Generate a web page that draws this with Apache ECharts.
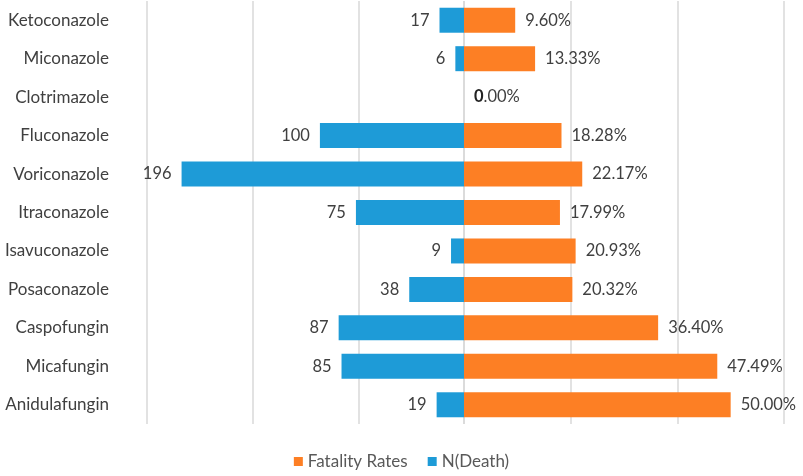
<!DOCTYPE html>
<html><head><meta charset="utf-8">
<script src="https://cdn.jsdelivr.net/npm/echarts@6/dist/echarts.min.js"></script>
<style>html,body{margin:0;padding:0;background:#fff}#c{width:803px;height:476px}</style>
</head><body><div id="c"></div>
<script>
const categories = ['Ketoconazole','Miconazole','Clotrimazole','Fluconazole','Voriconazole','Itraconazole','Isavuconazole','Posaconazole','Caspofungin','Micafungin','Anidulafungin'];
const deaths = [17, 6, 0, 100, 196, 75, 9, 38, 87, 85, 19];
const fatalityRates = [9.60, 13.33, 0.00, 18.28, 22.17, 17.99, 20.93, 20.32, 36.40, 47.49, 50.00];

const FONT = 'Lato';
const TXT = '#404040';
const BLUE = '#1E9BD7';
const ORANGE = '#FD7F24';
const chart = echarts.init(document.getElementById('c'), null, {renderer:'canvas'});
const gridStyle = {show:true, lineStyle:{color:'#d9d9d9', width:1.5}};
chart.setOption({
  animation:false,
  textStyle:{fontFamily:FONT, color:TXT},
  legend:{
    data:['Fatality Rates','N(Death)'],
    bottom:1, left:'center', itemWidth:9, itemHeight:9, itemGap:20, icon:'rect',
    textStyle:{fontFamily:FONT, fontSize:17, color:'#595959'}
  },
  grid:[
    {left:147, right:339, top:1, bottom:52},
    {left:464, right:19, top:1, bottom:52}
  ],
  xAxis:[
    {gridIndex:0, type:'value', inverse:true, min:0, max:220, interval:220/3,
     axisLabel:{show:false}, axisLine:{show:false}, axisTick:{show:false}, splitLine:gridStyle},
    {gridIndex:1, type:'value', min:0, max:60, interval:20,
     axisLabel:{show:false}, axisLine:{show:false}, axisTick:{show:false}, splitLine:gridStyle}
  ],
  yAxis:[
    {gridIndex:0, type:'category', data:categories, inverse:true,
     axisLine:{show:false}, axisTick:{show:false},
     axisLabel:{margin:38, fontFamily:FONT, fontSize:17, color:TXT}},
    {gridIndex:1, type:'category', data:categories, inverse:true,
     axisLine:{show:false}, axisTick:{show:false}, axisLabel:{show:false}}
  ],
  series:[
    {name:'Fatality Rates', type:'bar', xAxisIndex:1, yAxisIndex:1, data:fatalityRates,
     barCategoryGap:'35%', itemStyle:{color:ORANGE},
     label:{show:true, position:'right', distance:10, fontFamily:FONT, fontSize:16.5, color:TXT,
       formatter:p => p.value === 0 ? '{b|0}.00%' : p.value.toFixed(2)+'%',
       rich:{b:{fontWeight:'bold', fontFamily:FONT, fontSize:16.5, color:'#222'}}}},
    {name:'N(Death)', type:'bar', xAxisIndex:0, yAxisIndex:0, data:deaths,
     barCategoryGap:'35%', itemStyle:{color:BLUE},
     label:{show:true, position:'left', distance:10, fontFamily:FONT, fontSize:16.5, color:TXT,
       formatter:p => p.value === 0 ? '' : String(p.value)}}
  ]
});
</script></body></html>
